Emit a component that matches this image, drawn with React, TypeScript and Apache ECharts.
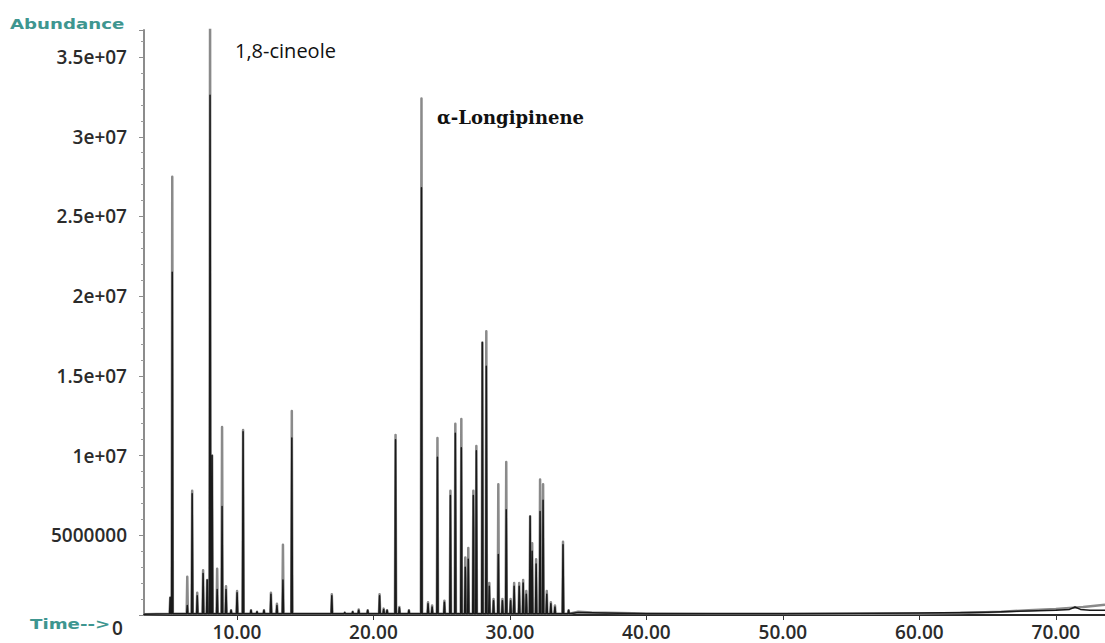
import React, { useEffect, useRef } from "react";
import * as echarts from "echarts";

// Retention times (min) of the peaks
const peakTimes = [
  5.11, 5.26, 6.36, 6.72, 7.09, 7.52, 7.82, 8.03, 8.18, 8.55, 8.91, 9.2, 9.57, 10.01, 10.45, 11.03, 11.47, 11.98,
  12.49, 12.93, 13.37, 14.02, 15.56, 16.95, 17.9, 18.48, 18.92, 19.58, 20.45, 20.75, 21.0, 21.62, 21.9, 22.6,
  23.52, 24.0, 24.3, 24.69, 25.2, 25.64, 26.0, 26.44, 26.73, 26.95, 27.32, 27.54, 27.98, 28.27, 28.49, 28.8,
  29.15, 29.45, 29.73, 30.05, 30.31, 30.68, 30.97, 31.2, 31.48, 31.63, 31.92, 32.21, 32.43, 32.7, 33.0, 33.3,
  33.89, 34.3,
];

// Abundance of the grey trace at each peak
const greyHeights = [
  1.1e6, 27.5e6, 2.4e6, 7.8e6, 1.4e6, 2.8e6, 2.2e6, 38e6, 10.0e6, 2.9e6, 11.8e6, 1.8e6, 0.3e6, 1.5e6, 11.6e6, 0.3e6, 0.2e6, 0.3e6,
  1.4e6, 0.7e6, 4.4e6, 12.8e6, 0.1e6, 1.3e6, 0.15e6, 0.2e6, 0.35e6, 0.3e6, 1.3e6, 0.4e6, 0.3e6, 11.3e6, 0.5e6, 0.3e6,
  32.4e6, 0.8e6, 0.6e6, 11.1e6, 0.9e6, 7.8e6, 12.0e6, 12.3e6, 3.6e6, 4.2e6, 7.8e6, 10.6e6, 17.1e6, 17.8e6, 2.0e6, 1.0e6,
  8.2e6, 1.0e6, 9.6e6, 1.0e6, 2.0e6, 2.0e6, 2.2e6, 1.5e6, 6.2e6, 4.5e6, 3.5e6, 8.5e6, 8.2e6, 1.5e6, 0.8e6, 0.6e6,
  4.6e6, 0.3e6,
];

// Abundance of the black trace at each peak
const blackHeights = [
  1.1e6, 21.5e6, 0.6e6, 7.6e6, 1.2e6, 2.6e6, 2.2e6, 32.6e6, 10.0e6, 1.6e6, 6.8e6, 1.6e6, 0.3e6, 1.4e6, 11.5e6, 0.3e6, 0.2e6, 0.3e6,
  1.3e6, 0.6e6, 2.2e6, 11.1e6, 0.1e6, 1.2e6, 0.15e6, 0.2e6, 0.3e6, 0.3e6, 1.2e6, 0.35e6, 0.3e6, 11.0e6, 0.45e6, 0.3e6,
  26.8e6, 0.7e6, 0.5e6, 9.9e6, 0.8e6, 7.5e6, 11.4e6, 10.5e6, 3.0e6, 3.5e6, 7.5e6, 10.3e6, 17.1e6, 15.6e6, 1.8e6, 0.9e6,
  3.8e6, 0.9e6, 6.6e6, 0.9e6, 1.8e6, 1.8e6, 2.0e6, 1.3e6, 6.2e6, 4.0e6, 3.2e6, 6.5e6, 7.2e6, 1.3e6, 0.7e6, 0.5e6,
  4.4e6, 0.3e6,
];

// Baselines (drift) of each trace
const greyBaseTimes = [3.19, 35, 36, 40, 45, 50, 55, 60, 63, 66, 68, 70, 72, 73.6];
const greyBaseValues = [0.05e6, 0.2e6, 0.15e6, 0.1e6, 0.08e6, 0.08e6, 0.08e6, 0.1e6, 0.12e6, 0.2e6, 0.3e6, 0.38e6, 0.5e6, 0.65e6];
const blackBaseTimes = [3.19, 35, 40, 50, 60, 65, 68, 70, 71, 71.4, 71.8, 72.5, 73.6];
const blackBaseValues = [0.05e6, 0.15e6, 0.08e6, 0.08e6, 0.12e6, 0.18e6, 0.25e6, 0.3e6, 0.35e6, 0.5e6, 0.35e6, 0.3e6, 0.3e6];

const xTickValues = [10, 20, 30, 40, 50, 60, 70];
const annotations = ["1,8-cineole", "α-Longipinene"];

const HALF_WIDTH = 0.045;
const FOOT = 0.08e6;

function buildTrace(times: number[], heights: number[], baseT: number[], baseV: number[]) {
  const pts: number[][] = [];
  times.forEach((t, i) => {
    pts.push([t - HALF_WIDTH, FOOT], [t, heights[i]], [t + HALF_WIDTH, FOOT]);
  });
  baseT.forEach((t, i) => pts.push([t, baseV[i]]));
  pts.sort((a, b) => a[0] - b[0]);
  return pts;
}

const labelFont = "'Open Sans', 'Liberation Sans', sans-serif";

export default function App() {
  const ref = useRef<HTMLDivElement>(null);
  useEffect(() => {
    if (!ref.current) return;
    const chart = echarts.init(ref.current, undefined, { renderer: "svg" });
    chart.setOption({
      animation: false,
      backgroundColor: "#ffffff",
      grid: { left: 144, right: 0, top: 30, bottom: 28, containLabel: false },
      xAxis: {
        type: "value",
        min: 3.19,
        max: 73.6,
        axisLine: { show: true, onZero: false, lineStyle: { color: "#2a2a2a", width: 2 } },
        axisTick: { show: true, customValues: xTickValues, length: 5, lineStyle: { color: "#333" } },
        splitLine: { show: false },
        axisLabel: {
          customValues: xTickValues,
          formatter: (v: number) => v.toFixed(2),
          fontSize: 19,
          fontFamily: labelFont,
          fontWeight: 600,
          color: "#2b2b2b",
          margin: 7,
        },
      },
      yAxis: {
        type: "value",
        min: 0,
        max: 36.7e6,
        interval: 5e6,
        axisLine: { show: true, lineStyle: { color: "#8c8c8c", width: 2 } },
        axisTick: { show: true, length: 5, lineStyle: { color: "#8c8c8c" } },
        minorTick: { show: true, splitNumber: 5, length: 3, lineStyle: { color: "#9a9a9a" } },
        splitLine: { show: false },
        axisLabel: {
          formatter: (v: number) => {
            if (v === 0 || v % 5e6 !== 0) return "";
            return v >= 1e7 ? `${v / 1e7}e+07` : String(v);
          },
          fontSize: 19,
          fontFamily: labelFont,
          fontWeight: 600,
          color: "#2b2b2b",
          margin: 17,
        },
      },
      series: [
        {
          type: "line",
          name: "grey",
          data: buildTrace(peakTimes, greyHeights, greyBaseTimes, greyBaseValues),
          showSymbol: false,
          clip: true,
          z: 2,
          lineStyle: { color: "#8a8a8a", width: 2.5, join: "round" },
        },
        {
          type: "line",
          name: "black",
          data: buildTrace(peakTimes, blackHeights, blackBaseTimes, blackBaseValues),
          showSymbol: false,
          clip: true,
          z: 3,
          lineStyle: { color: "#1a1a1a", width: 1.5, join: "round" },
        },
      ],
      graphic: [
        {
          type: "text",
          x: 10,
          y: 24,
          scaleX: 1.3,
          style: {
            text: "Abundance",
            font: "bold 14px 'DejaVu Sans', sans-serif",
            fill: "#3e9690",
            textVerticalAlign: "middle",
          },
        },
        {
          type: "text",
          x: 30,
          y: 624,
          scaleX: 1.3,
          style: {
            text: "Time-->",
            font: "bold 14px 'DejaVu Sans', sans-serif",
            fill: "#3e9690",
            textVerticalAlign: "middle",
          },
        },
        {
          type: "text",
          x: 112,
          y: 628,
          style: {
            text: "0",
            font: `600 19px ${labelFont}`,
            fill: "#2b2b2b",
            textVerticalAlign: "middle",
          },
        },
        {
          type: "text",
          x: 235,
          y: 50,
          style: {
            text: annotations[0],
            font: `20px ${labelFont}`,
            fill: "#111",
            textVerticalAlign: "middle",
          },
        },
        {
          type: "text",
          x: 437,
          y: 117,
          style: {
            text: annotations[1],
            font: "bold 18px 'DejaVu Serif', serif",
            fill: "#111",
            textVerticalAlign: "middle",
          },
        },
      ],
    });
    return () => chart.dispose();
  }, []);
  return (
    <div
      ref={ref}
      style={{ position: "fixed", left: 0, top: 0, width: 1105, height: 643, background: "#fff" }}
    />
  );
}
